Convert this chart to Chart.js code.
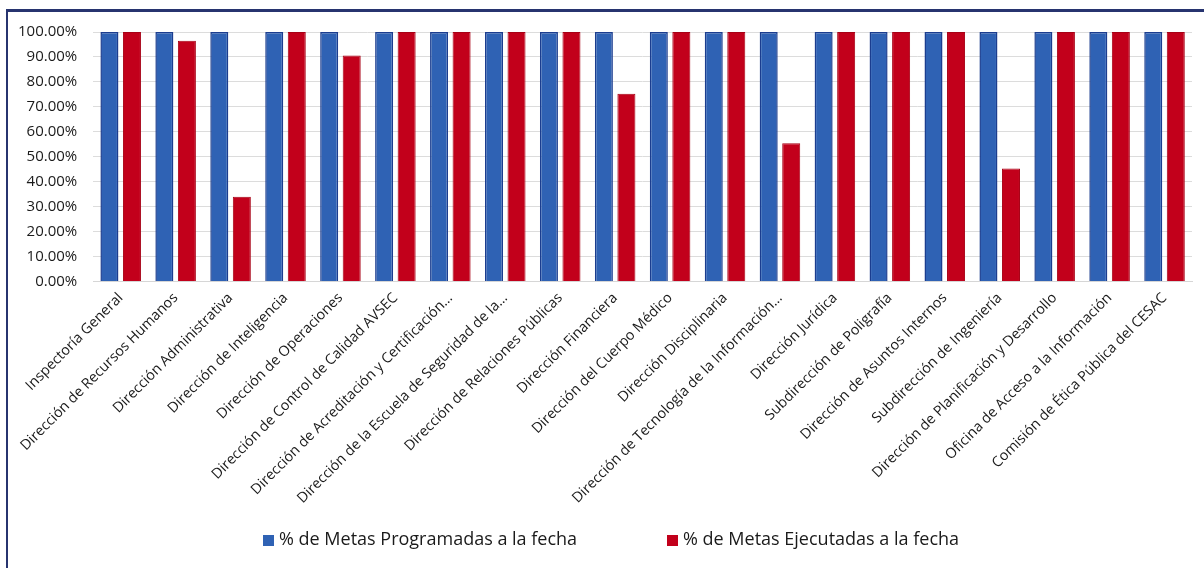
<!DOCTYPE html>
<html>
<head>
<meta charset="utf-8">
<script src="https://cdn.jsdelivr.net/npm/chart.js@4.4.1/dist/chart.umd.min.js"></script>
<style>
  html, body { margin: 0; padding: 0; background: #fff; }
  canvas { display: block; }
</style>
</head>
<body>
<canvas id="metasChart" width="1204" height="568"></canvas>
<script>
// Categories (direcciones)
const categories = [
    'Inspectoría General',
    'Dirección de Recursos Humanos',
    'Dirección Administrativa',
    'Dirección de Inteligencia',
    'Dirección de Operaciones',
    'Dirección de Control de Calidad AVSEC',
    'Dirección de Acreditación y Certificación…',
    'Dirección de la Escuela de Seguridad de la…',
    'Dirección de Relaciones Públicas',
    'Dirección Financiera',
    'Dirección del Cuerpo Médico',
    'Dirección Disciplinaria',
    'Dirección de Tecnología de la Información…',
    'Dirección Jurídica',
    'Subdirección de Poligrafía',
    'Dirección de Asuntos Internos',
    'Subdirección de Ingeniería',
    'Dirección de Planificación y Desarrollo',
    'Oficina de Acceso a la Información',
    'Comisión de Ética Pública del CESAC'
];

// Series values (%)
const metasProgramadas = [100, 100, 100, 100, 100, 100, 100, 100, 100, 100,
                          100, 100, 100, 100, 100, 100, 100, 100, 100, 100];
const metasEjecutadas = [100, 96.5, 34, 100, 90.6, 100, 100, 100, 100, 75.3,
                         100, 100, 55.4, 100, 100, 100, 45.3, 100, 100, 100];

const seriesNames = ['% de Metas Programadas a la fecha', '% de Metas Ejecutadas a la fecha'];

// Frame line (top and left) like the pasted image
const frameLines = {
    id: 'frameLines',
    afterDraw(chart) {
        const ctx = chart.ctx;
        ctx.save();
        ctx.fillStyle = '#27346f';
        ctx.fillRect(6, 9, 1198, 3);
        ctx.fillRect(6, 9, 2, 559);
        ctx.restore();
    }
};

// Custom legend drawn at the bottom, spaced like the original
const bottomLegend = {
    id: 'bottomLegend',
    afterDraw(chart) {
        const ctx = chart.ctx;
        const startX = [263, 667];
        const y = 540;
        ctx.save();
        ctx.font = '18px "Open Sans"';
        ctx.textBaseline = 'middle';
        chart.data.datasets.forEach((ds, i) => {
            ctx.fillStyle = ds.backgroundColor;
            ctx.fillRect(startX[i], y - 5, 11, 11);
            ctx.fillStyle = '#1a1a1a';
            ctx.fillText(ds.label, startX[i] + 16, y);
        });
        ctx.restore();
    }
};

const ctx = document.getElementById('metasChart').getContext('2d');
const metasChart = new Chart(ctx, {
    type: 'bar',
    data: {
        labels: categories,
        datasets: [
            {
                label: seriesNames[0],
                data: metasProgramadas,
                backgroundColor: '#2f62b4',
                borderColor: '#1b3d8f',
                borderWidth: 1.5
            },
            {
                label: seriesNames[1],
                data: metasEjecutadas,
                backgroundColor: '#c2001b',
                borderColor: '#a70015',
                borderWidth: 1
            }
        ]
    },
    options: {
        responsive: false,
        animation: false,
        layout: { padding: { left: 2, right: 12, top: 32, bottom: 61 } },
        datasets: {
            bar: { categoryPercentage: 0.82, barPercentage: 0.8 }
        },
        plugins: {
            legend: { display: false },
            tooltip: { enabled: false }
        },
        scales: {
            x: {
                grid: { display: false },
                border: { color: '#d6d6d6' },
                ticks: {
                    color: '#1a1a1a',
                    font: { family: 'Open Sans', size: 14.3 },
                    maxRotation: 45,
                    minRotation: 45,
                    autoSkip: false,
                    padding: 0
                }
            },
            y: {
                min: 0,
                max: 100,
                grid: { color: '#dcdcdc', drawTicks: false },
                border: { display: false },
                ticks: {
                    stepSize: 10,
                    padding: 16,
                    color: '#1a1a1a',
                    font: { family: 'Open Sans', size: 15 },
                    callback: (v) => v.toFixed(2) + '%'
                }
            }
        }
    },
    plugins: [frameLines, bottomLegend]
});
</script>
</body>
</html>
